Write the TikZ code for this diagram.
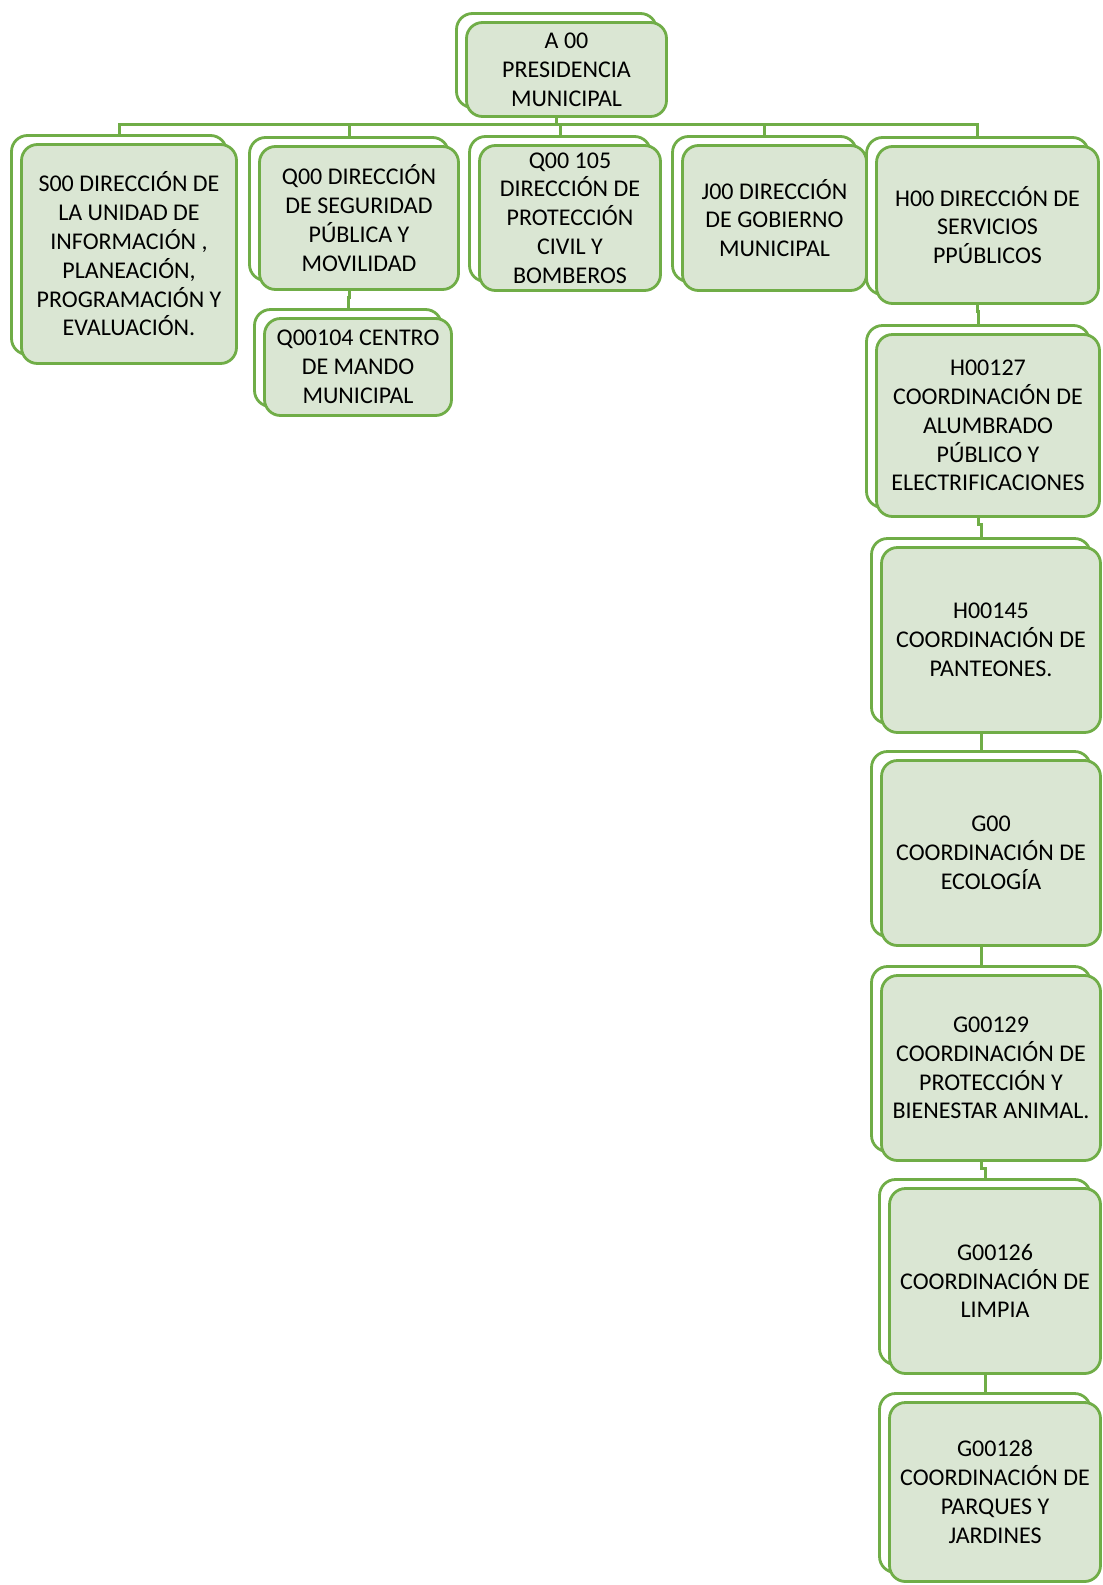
\documentclass[tikz,border=0pt]{standalone}
\usepackage{fontspec}
\setmainfont{Carlito}
\usetikzlibrary{shadows}

\definecolor{orggreen}{RGB}{112,173,71}
\definecolor{orgfill}{RGB}{218,230,211}

\pgfdeclarelayer{background}
\pgfsetlayers{background,main}

\begin{document}
\begin{tikzpicture}[x=1pt, y=-1pt,
		unit/.style={draw=orggreen, line width=2.8pt, fill=orgfill, rounded corners=16pt,
			align=center, inner sep=2pt, font=\fontsize{24}{28.8}\selectfont,
			copy shadow={shadow xshift=-10pt, shadow yshift=9pt, opacity=1,
				fill=white, draw=orggreen, line width=2.8pt}},
		link/.style={draw=orggreen, line width=3pt}]
	\path[use as bounding box] (0,0) rectangle (1103,1585);
	
	% Top
	\node[unit, minimum width=200, minimum height=94] (a00) at (566.5,69.5) {A 00\\PRESIDENCIA\\MUNICIPAL};
	
	% First level
	\node[unit, minimum width=215, minimum height=219] (s00) at (129,254) {S00 DIRECCIÓN DE\\LA UNIDAD DE\\INFORMACIÓN ,\\PLANEACIÓN,\\PROGRAMACIÓN Y\\EVALUACIÓN.};
	\node[unit, minimum width=199, minimum height=143] (q00) at (359,218) {Q00 DIRECCIÓN\\DE SEGURIDAD\\PÚBLICA Y\\MOVILIDAD};
	\node[unit, minimum width=181, minimum height=145] (q105) at (570,218) {Q00 105\\DIRECCIÓN DE\\PROTECCIÓN\\CIVIL Y\\BOMBEROS};
	\node[unit, minimum width=184, minimum height=145] (j00) at (774.5,218) {J00 DIRECCIÓN\\DE GOBIERNO\\MUNICIPAL};
	\node[unit, minimum width=222, minimum height=157] (h00) at (987.5,225) {H00 DIRECCIÓN DE\\SERVICIOS\\PPÚBLICOS};
	
	% Under Q00
	\node[unit, minimum width=187, minimum height=97] (q104) at (358,367) {Q00104 CENTRO\\DE MANDO\\MUNICIPAL};
	
	% Under H00
	\node[unit, minimum width=223, minimum height=182] (h127) at (988,425.5) {H00127\\COORDINACIÓN DE\\ALUMBRADO\\PÚBLICO Y\\ELECTRIFICACIONES};
	\node[unit, minimum width=219, minimum height=185] (h145) at (991,640) {H00145\\COORDINACIÓN DE\\PANTEONES.};
	\node[unit, minimum width=219, minimum height=185] (g00) at (991,853) {G00\\COORDINACIÓN DE\\ECOLOGÍA};
	\node[unit, minimum width=219, minimum height=185] (g129) at (991,1068) {G00129\\COORDINACIÓN DE\\PROTECCIÓN Y\\BIENESTAR ANIMAL.};
	\node[unit, minimum width=211, minimum height=185] (g126) at (995,1281) {G00126\\COORDINACIÓN DE\\LIMPIA};
	\node[unit, minimum width=211, minimum height=179] (g128) at (995,1492) {G00128\\COORDINACIÓN DE\\PARQUES Y\\JARDINES};
	
	% Connectors
	\begin{pgfonlayer}{background}
		\foreach \n in {s00,q00,q105,j00,h00}
			\draw[link] ([xshift=-10pt]a00.south) -- ++(0,7) -| ([xshift=-10pt,yshift=9pt]\n.north);
		\draw[link] ([xshift=-10pt]q00.south) -- ++(0,7) -| ([xshift=-10pt,yshift=9pt]q104.north);
		\foreach \p/\c in {h00/h127,h127/h145,h145/g00,g00/g129,g129/g126,g126/g128}
			\draw[link] ([xshift=-10pt]\p.south) -- ++(0,7) -| ([xshift=-10pt,yshift=9pt]\c.north);
	\end{pgfonlayer}
	
\end{tikzpicture}
\end{document}
